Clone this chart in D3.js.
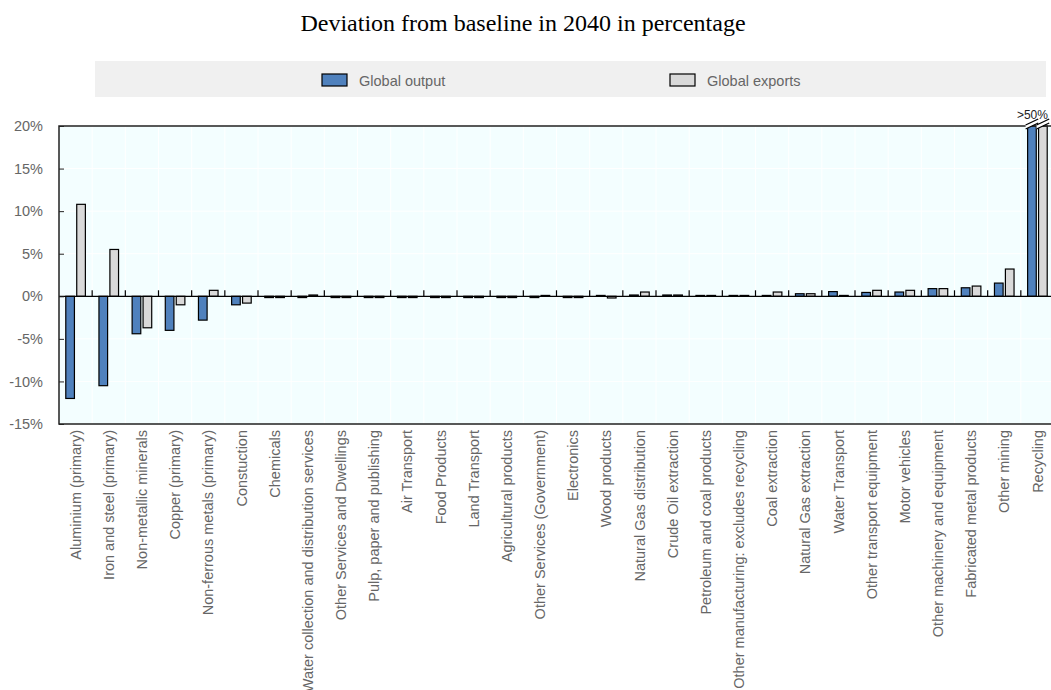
<!DOCTYPE html>
<html lang="en">
<head>
    <meta charset="UTF-8">
    <title>Deviation from baseline in 2040</title>
    <style>
        body { margin: 0; background: #fff; }
        text { font-family: "Liberation Sans", Arial, sans-serif; }
    </style>
</head>
<body>
    <svg id="chart" width="1051" height="690"></svg>

    <script src="https://d3js.org/d3.v7.min.js"></script>
    <script>
        const sectors = [
            "Aluminium (primary)", "Iron and steel (primary)", "Non-metallic minerals",
            "Copper (primary)", "Non-ferrous metals (primary)", "Constuction", "Chemicals",
            "Water collection and distribution services", "Other Services and Dwellings",
            "Pulp, paper and publishing", "Air Transport", "Food Products", "Land Transport",
            "Agricultural products", "Other Services (Government)", "Electronics",
            "Wood products", "Natural Gas distribution", "Crude Oil extraction",
            "Petroleum and coal products", "Other manufacturing: excludes recycling",
            "Coal extraction", "Natural Gas extraction", "Water Transport",
            "Other transport equipment", "Motor vehicles", "Other machinery and equipment",
            "Fabricated metal products", "Other mining", "Recycling"
        ];
        // percent deviation (Recycling is >50%, cut at the axis top)
        const globalOutput = [
            -12.0, -10.5, -4.4, -4.0, -2.8, -1.0, -0.15, -0.15, -0.15, -0.15,
            -0.15, -0.15, -0.15, -0.15, -0.15, -0.15, 0.1, 0.15, 0.15, 0.1,
            0.1, 0.1, 0.3, 0.55, 0.45, 0.5, 0.9, 1.0, 1.55, 55
        ];
        const globalExports = [
            10.8, 5.5, -3.7, -1.0, 0.7, -0.8, -0.15, 0.15, -0.15, -0.15,
            -0.15, -0.15, -0.15, -0.15, 0.1, -0.15, -0.2, 0.5, 0.15, 0.1,
            0.1, 0.5, 0.3, 0.1, 0.7, 0.7, 0.9, 1.2, 3.2, 55
        ];
        const seriesNames = ["Global output", "Global exports"];
        const seriesColors = ["#4f81bd", "#d9d9d9"];
        const yTicks = [-15, -10, -5, 0, 5, 10, 15, 20];

        const svg = d3.select("#chart");
        const plotLeft = 59, plotRight = 1054, plotTop = 126, plotBottom = 424;

        const rows = sectors.map((s, i) => ({ sector: s, values: [globalOutput[i], globalExports[i]] }));

        const x = d3.scaleBand().domain(sectors).range([plotLeft, plotRight]);
        const xInner = d3.scaleBand().domain(seriesNames).range([0, x.bandwidth()])
            .paddingInner(0.21).paddingOuter(0.62);
        const y = d3.scaleLinear().domain([-15, 20]).range([plotBottom, plotTop]).clamp(true);
        const color = d3.scaleOrdinal().domain(seriesNames).range(seriesColors);

        // title
        svg.append("text")
            .attr("x", 523).attr("y", 31)
            .attr("text-anchor", "middle")
            .style("font-family", "'Liberation Serif', 'Times New Roman', serif")
            .style("font-size", "24px")
            .attr("fill", "#000")
            .text("Deviation from baseline in 2040 in percentage");

        // legend
        svg.append("rect")
            .attr("x", 95).attr("y", 61).attr("width", 951).attr("height", 36)
            .attr("fill", "#f0f0f0");
        const legendX = [322, 670];
        const legend = svg.append("g").selectAll("g")
            .data(seriesNames).join("g")
            .attr("transform", (d, i) => `translate(${legendX[i]},74)`);
        legend.append("rect")
            .attr("width", 25).attr("height", 12)
            .attr("fill", d => color(d))
            .attr("stroke", "#000").attr("stroke-width", 1.2);
        legend.append("text")
            .attr("x", 37).attr("y", 11.5)
            .attr("fill", "#666").style("font-size", "14.5px")
            .text(d => d);

        // plot background + grid
        svg.append("rect")
            .attr("x", plotLeft).attr("y", plotTop)
            .attr("width", plotRight - plotLeft).attr("height", plotBottom - plotTop)
            .attr("fill", "#f3feff");
        svg.append("g").selectAll("line")
            .data(yTicks).join("line")
            .attr("x1", plotLeft).attr("x2", plotRight)
            .attr("y1", d => y(d)).attr("y2", d => y(d))
            .attr("stroke", "#fff").attr("stroke-width", 1);
        svg.append("g").selectAll("line")
            .data(sectors.slice(1)).join("line")
            .attr("x1", d => x(d)).attr("x2", d => x(d))
            .attr("y1", plotTop).attr("y2", plotBottom)
            .attr("stroke", "#fff").attr("stroke-width", 1);

        // bars
        const groups = svg.append("g").selectAll("g")
            .data(rows).join("g")
            .attr("transform", d => `translate(${x(d.sector)},0)`);
        groups.selectAll("rect")
            .data(d => d.values.map((v, i) => ({ key: seriesNames[i], value: v })))
            .join("rect")
            .attr("x", d => xInner(d.key))
            .attr("width", xInner.bandwidth())
            .attr("y", d => y(Math.max(0, d.value)))
            .attr("height", d => Math.max(0.01, Math.abs(y(d.value) - y(0))))
            .attr("fill", d => color(d.key))
            .attr("stroke", "#000").attr("stroke-width", 1.2);

        // zero line with category ticks
        svg.append("line")
            .attr("x1", plotLeft).attr("x2", plotRight)
            .attr("y1", y(0)).attr("y2", y(0))
            .attr("stroke", "#000").attr("stroke-width", 1.2);
        svg.append("g").selectAll("line")
            .data(sectors.slice(1)).join("line")
            .attr("x1", d => x(d)).attr("x2", d => x(d))
            .attr("y1", y(0)).attr("y2", y(0) - 6)
            .attr("stroke", "#000").attr("stroke-width", 1.2);

        // frame: left, top, bottom
        svg.append("path")
            .attr("d", `M${plotRight},${plotTop}H${plotLeft}V${plotBottom}H${plotRight}`)
            .attr("fill", "none").attr("stroke", "#222").attr("stroke-width", 1.5);

        // y axis, inward ticks
        const yAxis = d3.axisLeft(y).tickValues(yTicks)
            .tickFormat(d => d + "%").tickSize(-5).tickPadding(16);
        const ya = svg.append("g").attr("transform", `translate(${plotLeft},0)`).call(yAxis);
        ya.select(".domain").remove();
        ya.selectAll("line").attr("stroke", "#222");
        ya.selectAll("text")
            .attr("fill", "#666")
            .style("font-family", "'Liberation Sans', Arial, sans-serif")
            .style("font-size", "14.5px");

        // x labels, rotated
        const xAxis = d3.axisBottom(x).tickSize(0).tickPadding(0);
        const xa = svg.append("g").attr("transform", `translate(0,${plotBottom})`).call(xAxis);
        xa.select(".domain").remove();
        xa.selectAll("text")
            .attr("fill", "#666")
            .style("font-family", "'Liberation Sans', Arial, sans-serif")
            .style("font-size", "14.5px")
            .attr("text-anchor", "end")
            .attr("transform", "rotate(-90)")
            .attr("x", -6).attr("y", 0).attr("dy", "0.36em");

        // axis break for values beyond the top of the scale
        const breaks = [];
        rows.forEach(r => r.values.forEach((v, i) => {
            if (v > y.domain()[1]) breaks.push({ sector: r.sector, key: seriesNames[i] });
        }));
        const brk = svg.append("g").selectAll("g")
            .data(breaks).join("g")
            .attr("transform", d => `translate(${x(d.sector) + xInner(d.key)},${plotTop})`);
        const bw = xInner.bandwidth();
        brk.append("path")
            .attr("d", `M-2,3L${bw + 2},-3L${bw + 2},-7L-2,-1Z`)
            .attr("fill", "#fff");
        brk.append("path")
            .attr("d", `M-2,3L${bw + 2},-3M-2,-1L${bw + 2},-7`)
            .attr("stroke", "#000").attr("stroke-width", 1.3).attr("fill", "none");

        const breakSectors = Array.from(new Set(breaks.map(d => d.sector)));
        svg.append("g").selectAll("text")
            .data(breakSectors).join("text")
            .attr("x", d => x(d) + x.bandwidth() / 2 - 5)
            .attr("y", plotTop - 7)
            .attr("text-anchor", "middle")
            .attr("fill", "#222").style("font-size", "12px")
            .text(">50%");
    </script>
</body>
</html>
